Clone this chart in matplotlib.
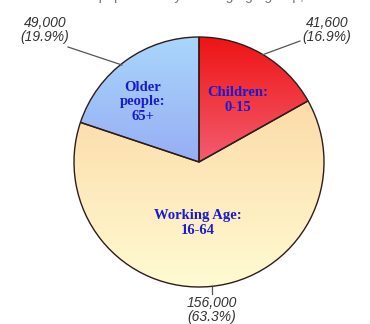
import matplotlib.pyplot as plt
import numpy as np
from matplotlib.colors import LinearSegmentedColormap

groups = ["Children:\n0-15", "Working Age:\n16-64", "Older\npeople:\n65+"]
counts = [41600, 156000, 49000]
value_labels = ["41,600\n(16.9%)", "156,000\n(63.3%)", "49,000\n(19.9%)"]
grad_top = ["#ee1414", "#fbd09a", "#a9d6fb"]
grad_bottom = ["#f8a6cc", "#fffbd2", "#8585ee"]

W, H = 370, 324
cx, cy, r = 199, 162, 125

fig = plt.figure(figsize=(3.7, 3.24), dpi=100)
ax = fig.add_axes([0, 0, 1, 1])

wedges, _ = ax.pie(counts, startangle=90, counterclock=False, center=(cx, cy),
                   radius=r, frame=True,
                   wedgeprops=dict(edgecolor="#2e1c1c", linewidth=1.0))
ax.set_xlim(0, W)
ax.set_ylim(0, H)
ax.set_aspect("equal")
ax.axis("off")

# vertical gradient fill in each slice
for w, c1, c2 in zip(wedges, grad_top, grad_bottom):
    w.set_facecolor("none")
    cmap = LinearSegmentedColormap.from_list("g", [c2, c1])
    grad = np.linspace(0, 1, 256).reshape(-1, 1)
    im = ax.imshow(grad, cmap=cmap, origin="lower", aspect="auto",
                   extent=[cx - r, cx + r, cy - r, cy + r], zorder=0.5)
    im.set_clip_path(w)
    w.set_zorder(1)

# group labels inside slices
inner_pos = [(238, 224), (198, 101), (143, 222)]
for (x, y), txt in zip(inner_pos, groups):
    ax.text(x, y, txt, ha="center", va="center", color="#1a1ad2",
            family="Liberation Serif", fontweight="bold", fontsize=10.5,
            linespacing=1.15)

# value labels with leader lines
lab_pos = [(327, 294), (212, 14), (45, 294)]
lines = [[(262, 269), (300, 283)], [(212, 37), (212, 30)], [(122, 259), (68, 277)]]
for (x, y), txt, ln in zip(lab_pos, value_labels, lines):
    ax.text(x, y, txt, ha="center", va="center", color="#333333",
            family="Liberation Sans", style="italic", fontsize=10,
            linespacing=1.05)
    xs, ys = zip(*ln)
    ax.plot(xs, ys, color="#555555", lw=0.9)

# title, mostly cut off at the top edge
ax.text(185, H + 4, "Estimated population by working age group, 2011",
        ha="center", va="center", color="#777777", family="Liberation Sans",
        fontsize=10, clip_on=False)

fig.savefig("out.png", dpi=100)
